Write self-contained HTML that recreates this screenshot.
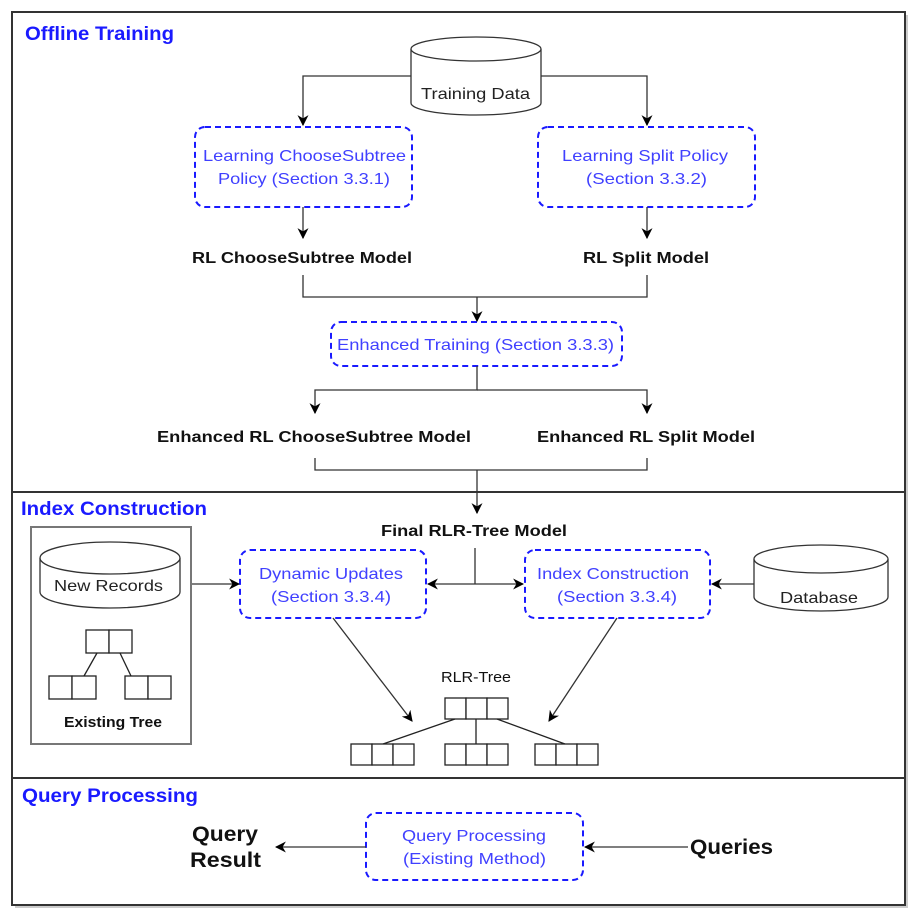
<!DOCTYPE html>
<html><head><meta charset="utf-8"><style>
html,body{margin:0;padding:0;background:#fff;}
svg{display:block;}
text{font-family:"Liberation Sans",sans-serif;}
</style></head><body>
<svg width="919" height="917" viewBox="0 0 919 917" xmlns="http://www.w3.org/2000/svg">
<defs>
<marker id="a" viewBox="0 0 10 10" refX="9" refY="5" markerWidth="11" markerHeight="11" orient="auto-start-reverse" markerUnits="userSpaceOnUse"><path d="M0,0 L10,5 L0,10 L3,5 Z" fill="#000"/></marker>
</defs>
<rect x="15" y="15" width="893" height="893" fill="#ccc"/>
<rect x="12" y="12" width="893" height="893" fill="#fff" stroke="#333" stroke-width="2"/>
<line x1="12" y1="492" x2="905" y2="492" stroke="#333" stroke-width="2"/>
<line x1="12" y1="778" x2="905" y2="778" stroke="#333" stroke-width="2"/>

<g fill="#1a1aff" font-weight="bold" font-size="19" lengthAdjust="spacingAndGlyphs">
<text x="25" y="40" textLength="149" lengthAdjust="spacingAndGlyphs">Offline Training</text>
<text x="21" y="515" textLength="186" lengthAdjust="spacingAndGlyphs">Index Construction</text>
<text x="22" y="802" textLength="176" lengthAdjust="spacingAndGlyphs">Query Processing</text>
</g>

<g fill="#fff" stroke="#333" stroke-width="1.3">
<path d="M411,49 L411,103 A65,12 0 0 0 541,103 L541,49"/>
<ellipse cx="476" cy="49" rx="65" ry="12"/>
<path d="M40,558 L40,592 A70,16 0 0 0 180,592 L180,558"/>
<ellipse cx="110" cy="558" rx="70" ry="16"/>
<path d="M754,559 L754,597 A67,14 0 0 0 888,597 L888,559"/>
<ellipse cx="821" cy="559" rx="67" ry="14"/>
</g>
<g fill="#222" font-size="16">
<text x="421" y="99" textLength="109" lengthAdjust="spacingAndGlyphs">Training Data</text>
<text x="54" y="591" textLength="109" lengthAdjust="spacingAndGlyphs">New Records</text>
<text x="780" y="603" textLength="78" lengthAdjust="spacingAndGlyphs">Database</text>
</g>

<g fill="none" stroke="#1a1aff" stroke-width="2" stroke-dasharray="6,4">
<rect x="195" y="127" width="217" height="80" rx="10"/>
<rect x="538" y="127" width="217" height="80" rx="10"/>
<rect x="331" y="322" width="291" height="44" rx="10"/>
<rect x="240" y="550" width="186" height="68" rx="10"/>
<rect x="525" y="550" width="185" height="68" rx="10"/>
<rect x="366" y="813" width="217" height="67" rx="10"/>
</g>
<g fill="#4040ff" font-size="16">
<text x="203" y="161" textLength="203" lengthAdjust="spacingAndGlyphs">Learning ChooseSubtree</text>
<text x="218" y="184" textLength="172" lengthAdjust="spacingAndGlyphs">Policy (Section 3.3.1)</text>
<text x="562" y="161" textLength="166" lengthAdjust="spacingAndGlyphs">Learning Split Policy</text>
<text x="586" y="184" textLength="121" lengthAdjust="spacingAndGlyphs">(Section 3.3.2)</text>
<text x="337" y="350" textLength="277" lengthAdjust="spacingAndGlyphs">Enhanced Training (Section 3.3.3)</text>
<text x="259" y="579" textLength="144" lengthAdjust="spacingAndGlyphs">Dynamic Updates</text>
<text x="271" y="602" textLength="120" lengthAdjust="spacingAndGlyphs">(Section 3.3.4)</text>
<text x="537" y="579" textLength="152" lengthAdjust="spacingAndGlyphs">Index Construction</text>
<text x="557" y="602" textLength="120" lengthAdjust="spacingAndGlyphs">(Section 3.3.4)</text>
<text x="402" y="841" textLength="144" lengthAdjust="spacingAndGlyphs">Query Processing</text>
<text x="403" y="864" textLength="143" lengthAdjust="spacingAndGlyphs">(Existing Method)</text>
</g>

<g fill="#111" font-weight="bold" font-size="16">
<text x="192" y="263" textLength="220" lengthAdjust="spacingAndGlyphs">RL ChooseSubtree Model</text>
<text x="583" y="263" textLength="126" lengthAdjust="spacingAndGlyphs">RL Split Model</text>
<text x="157" y="442" textLength="314" lengthAdjust="spacingAndGlyphs">Enhanced RL ChooseSubtree Model</text>
<text x="537" y="442" textLength="218" lengthAdjust="spacingAndGlyphs">Enhanced RL Split Model</text>
<text x="381" y="536" textLength="186" lengthAdjust="spacingAndGlyphs">Final RLR-Tree Model</text>
<text x="64" y="727" font-size="15" textLength="98" lengthAdjust="spacingAndGlyphs">Existing Tree</text>
<text x="441" y="682" font-size="15" font-weight="normal" textLength="70" lengthAdjust="spacingAndGlyphs">RLR-Tree</text>
<text x="192" y="841" font-size="21" textLength="66" lengthAdjust="spacingAndGlyphs">Query</text>
<text x="190" y="867" font-size="21" textLength="71" lengthAdjust="spacingAndGlyphs">Result</text>
<text x="690" y="854" font-size="21" textLength="83" lengthAdjust="spacingAndGlyphs">Queries</text>
</g>

<g fill="none" stroke="#333" stroke-width="1.3">
<path d="M411,76 H303 V125" marker-end="url(#a)"/>
<path d="M541,76 H647 V125" marker-end="url(#a)"/>
<path d="M303,207 V238" marker-end="url(#a)"/>
<path d="M647,207 V238" marker-end="url(#a)"/>
<path d="M303,275 V297 H647 V275"/>
<path d="M477,297 V321" marker-end="url(#a)"/>
<path d="M477,366 V390 H315 V413" marker-end="url(#a)"/>
<path d="M477,390 H647 V413" marker-end="url(#a)"/>
<path d="M315,458 V470 H647 V458"/>
<path d="M477,470 V513" marker-end="url(#a)"/>
<path d="M475,548 V584"/>
<path d="M475,584 H428" marker-end="url(#a)"/>
<path d="M475,584 H523" marker-end="url(#a)"/>
<path d="M191,584 H239" marker-end="url(#a)"/>
<path d="M754,584 H712" marker-end="url(#a)"/>
<path d="M333,618 L412,721" marker-end="url(#a)"/>
<path d="M617,618 L549,721" marker-end="url(#a)"/>
<path d="M366,847 H276" marker-end="url(#a)"/>
<path d="M688,847 H585" marker-end="url(#a)"/>
</g>

<rect x="31" y="527" width="160" height="217" fill="none" stroke="#777" stroke-width="2"/>
<g fill="#fff" stroke="#222" stroke-width="1.3">
<rect x="86" y="630" width="23" height="23"/><rect x="109" y="630" width="23" height="23"/>
<rect x="49" y="676" width="23" height="23"/><rect x="72" y="676" width="24" height="23"/>
<rect x="125" y="676" width="23" height="23"/><rect x="148" y="676" width="23" height="23"/>
<line x1="97" y1="653" x2="84" y2="676"/><line x1="120" y1="653" x2="131" y2="676"/>
<rect x="445" y="698" width="21" height="21"/><rect x="466" y="698" width="21" height="21"/><rect x="487" y="698" width="21" height="21"/>
<rect x="351" y="744" width="21" height="21"/><rect x="372" y="744" width="21" height="21"/><rect x="393" y="744" width="21" height="21"/>
<rect x="445" y="744" width="21" height="21"/><rect x="466" y="744" width="21" height="21"/><rect x="487" y="744" width="21" height="21"/>
<rect x="535" y="744" width="21" height="21"/><rect x="556" y="744" width="21" height="21"/><rect x="577" y="744" width="21" height="21"/>
<line x1="455" y1="719" x2="383" y2="744"/><line x1="476" y1="719" x2="476" y2="744"/><line x1="497" y1="719" x2="565" y2="744"/>
</g>
</svg>
</body></html>
